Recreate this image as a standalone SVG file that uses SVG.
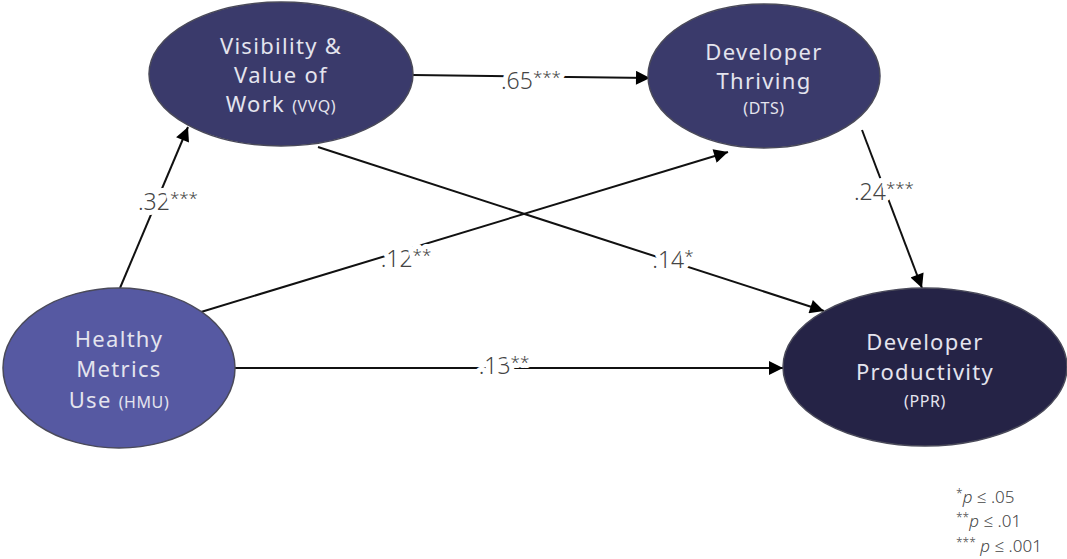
<svg xmlns="http://www.w3.org/2000/svg" width="1067" height="559" viewBox="0 0 1067 559">
  <style>
    .node-a { fill: #5659a2; stroke: #4a4a5a; stroke-width: 1.5; }
    .node-b { fill: #3a3a6b; stroke: #4a4a5a; stroke-width: 1.5; }
    .node-c { fill: #252346; stroke: #4a4a5a; stroke-width: 1.5; }
    .ntext { font-family: "Noto Sans", "Open Sans", sans-serif; font-size: 22px; letter-spacing: 1.3px; fill: #e4e4ee; text-anchor: middle; }
    .small { font-size: 16px; letter-spacing: 0.6px; }
    .edge { stroke: #111; stroke-width: 2; fill: none; marker-end: url(#arrow); }
    .elabel { font-family: "Noto Sans", "Open Sans", sans-serif; font-weight: 300; font-size: 23px; fill: #444; text-anchor: middle; stroke: #fff; stroke-width: 10px; paint-order: stroke; stroke-linejoin: round; }
    .star { font-size: 17px; }
    .legend { font-family: "Noto Sans", "Open Sans", sans-serif; font-weight: 300; font-size: 17px; fill: #444; }
  </style>
  <defs>
    <marker id="arrow" viewBox="0 0 10 10" refX="10" refY="5" markerWidth="8" markerHeight="7" markerUnits="strokeWidth" orient="auto">
      <path d="M0,0 L10,5 L0,10 z" fill="#000"/>
    </marker>
  </defs>

  <rect width="1067" height="559" fill="#fff"/>

  <g id="connectors">
    <line class="edge" x1="120" y1="288" x2="188" y2="127"/>
    <line class="edge" x1="201" y1="312" x2="728" y2="152"/>
    <line class="edge" x1="318" y1="147" x2="824" y2="311"/>
    <line class="edge" x1="413" y1="75" x2="650" y2="78"/>
    <line class="edge" x1="862" y1="130" x2="922" y2="288"/>
    <line class="edge" x1="235" y1="368" x2="783" y2="368"/>
    <text class="elabel" x="168" y="210">.32<tspan class="star" dy="-6">***</tspan></text>
    <text class="elabel" x="406" y="267">.12<tspan class="star" dy="-6">**</tspan></text>
    <text class="elabel" x="673" y="268">.14<tspan class="star" dy="-6">*</tspan></text>
    <text class="elabel" x="531" y="89">.65<tspan class="star" dy="-6">***</tspan></text>
    <text class="elabel" x="884" y="200">.24<tspan class="star" dy="-6">***</tspan></text>
    <text class="elabel" x="504" y="374">.13<tspan class="star" dy="-6">**</tspan></text>
  </g>

  <g id="hmu">
    <ellipse class="node-a" cx="119" cy="368" rx="116" ry="80"/>
    <text class="ntext" x="119" y="347">Healthy</text>
    <text class="ntext" x="119" y="377">Metrics</text>
    <text class="ntext" x="119" y="408">Use <tspan class="small">(HMU)</tspan></text>
  </g>

  <g id="vvq">
    <ellipse class="node-b" cx="281" cy="74" rx="132" ry="72"/>
    <text class="ntext" x="281" y="54">Visibility &amp;</text>
    <text class="ntext" x="281" y="83">Value of</text>
    <text class="ntext" x="281" y="112">Work <tspan class="small">(VVQ)</tspan></text>
  </g>

  <g id="dts">
    <ellipse class="node-b" cx="764" cy="76" rx="116" ry="72"/>
    <text class="ntext" x="764" y="60">Developer</text>
    <text class="ntext" x="764" y="89">Thriving</text>
    <text class="ntext small" x="764" y="114">(DTS)</text>
  </g>

  <g id="ppr">
    <ellipse class="node-c" cx="925" cy="367" rx="142" ry="79"/>
    <text class="ntext" x="925" y="350">Developer</text>
    <text class="ntext" x="925" y="380">Productivity</text>
    <text class="ntext small" x="925" y="407">(PPR)</text>
  </g>

  <g id="legend">
    <text class="legend" x="956" y="503"><tspan font-size="12" dy="-5">*</tspan><tspan font-style="italic" dy="5">p</tspan> ≤ .05</text>
    <text class="legend" x="956" y="527"><tspan font-size="12" dy="-5">**</tspan><tspan font-style="italic" dy="5">p</tspan> ≤ .01</text>
    <text class="legend" x="956" y="552"><tspan font-size="12" dy="-5">***</tspan><tspan font-style="italic" dy="5"> p</tspan> ≤ .001</text>
  </g>
</svg>
